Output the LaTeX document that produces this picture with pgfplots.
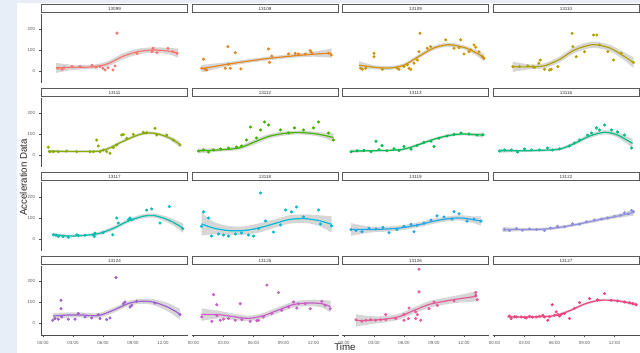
\documentclass[border=0pt]{standalone}
\usepackage{fontspec}
\setmainfont{Liberation Sans}
\usepackage{pgfplots}
\pgfplotsset{compat=1.18}
\usepackage{pgfplotstable}
\usepgfplotslibrary{fillbetween}

\definecolor{bgblue}{RGB}{232,238,247}
\definecolor{cA}{HTML}{F8766D}
\definecolor{cB}{HTML}{E7851E}
\definecolor{cC}{HTML}{D09400}
\definecolor{cD}{HTML}{B2A100}
\definecolor{cE}{HTML}{89AC00}
\definecolor{cF}{HTML}{45B500}
\definecolor{cG}{HTML}{00BC51}
\definecolor{cH}{HTML}{00C087}
\definecolor{cI}{HTML}{00C0B2}
\definecolor{cJ}{HTML}{00BCD6}
\definecolor{cK}{HTML}{1FA8E6}
\definecolor{cL}{HTML}{8F8FE0}
\definecolor{cM}{HTML}{A15FCF}
\definecolor{cN}{HTML}{CC5CC8}
\definecolor{cO}{HTML}{E65A9A}
\definecolor{cP}{HTML}{F0467C}

% ---------- points ----------
\pgfplotstableread{
x y
1.5 13
1.9 8
2.1 16
2.9 21
3.7 21
4.9 27
5.3 18
5.7 21
6.0 13
6.2 5
6.5 15
7.0 5
7.2 24
7.4 180
9.4 84
10.9 92
11.0 108
11.4 87
12.5 108
13.0 92
13.4 84
}\pA
\pgfplotstableread{
x y
0.83 13
1.0 56
1.17 8
1.33 5
3.17 13
3.43 116
3.5 32
3.67 13
4.17 87
4.73 10
7.5 105
7.6 41
7.83 71
9.5 81
10.17 84
10.5 81
11.17 81
11.67 97
11.83 87
13.5 84
13.77 76
}\pB
\pgfplotstableread{
x y
1.67 13
1.83 8
2.17 13
3.0 84
3.0 68
3.83 8
5.33 13
5.5 8
6.0 21
6.33 29
6.5 13
6.67 8
7.0 37
7.33 52
7.5 92
7.6 179
8.33 108
8.67 116
10.17 148
11.0 108
11.5 111
11.67 148
12.0 81
12.5 92
12.67 100
13.0 124
13.17 113
13.5 92
13.83 68
14.0 60
}\pC
\pgfplotstableread{
x y
1.83 21
2.5 21
3.33 24
3.83 21
4.0 17
4.43 37
4.57 52
5.0 8
5.5 5
5.67 8
6.33 21
7.77 179
7.83 116
8.17 68
9.0 92
9.9 171
10.23 171
10.5 124
11.33 92
11.9 52
12.67 84
13.9 40
}\pD
\pgfplotstableread{
x y
0.53 37
0.7 16
1.03 16
1.53 16
2.37 19
3.37 16
4.7 16
5.03 16
5.37 71
5.53 43
5.7 16
6.03 24
6.37 16
6.7 8
7.03 35
7.37 48
7.87 95
8.03 98
8.37 79
9.03 98
10.03 108
10.37 106
11.2 127
11.37 95
12.37 95
13.03 71
13.7 48
}\pE
\pgfplotstableread{
x y
0.5 19
1.0 24
1.5 14
2.0 24
2.7 29
3.5 33
4.3 38
4.8 43
5.3 71
5.7 133
6.3 81
6.7 119
7.1 157
7.5 143
8.7 119
9.5 105
10.1 129
11.0 119
12.0 129
12.5 157
13.5 105
14.0 71
}\pF
\pgfplotstableread{
x y
0.7 15
1.3 20
2.0 22
2.7 16
3.2 65
3.5 25
3.8 45
4.3 20
5.0 30
5.5 22
6.0 40
6.7 28
7.3 45
8.0 60
8.7 66
9.0 40
9.5 80
10.3 90
11.0 98
11.7 105
12.5 100
13.3 95
13.9 96
}\pG
\pgfplotstableread{
x y
0.5 19
1.0 24
1.7 24
2.3 14
3.0 29
3.7 24
4.5 24
5.3 33
5.8 24
6.5 29
7.5 43
8.0 57
8.5 71
9.3 95
9.7 105
10.2 129
10.5 119
11.0 143
11.7 119
12.3 110
13.0 95
13.7 33
}\pH
\pgfplotstableread{
x y
1.03 20
1.3 18
1.53 12
2.0 12
2.53 8
3.37 20
3.53 16
4.2 18
5.03 20
5.13 12
5.2 28
6.0 30
6.97 20
7.37 100
7.53 76
8.53 92
8.7 100
8.87 92
10.37 137
10.87 143
11.7 76
12.63 154
13.97 49
}\pI
\pgfplotstableread{
x y
0.8 60
1.0 129
1.5 100
1.8 14
2.5 24
3.0 19
3.5 14
4.2 24
4.8 29
5.5 19
6.0 14
6.5 50
6.7 219
7.2 86
8.0 33
8.7 67
9.2 138
9.8 129
10.3 152
11.0 105
12.5 138
12.7 71
13.8 62
}\pJ
\pgfplotstableread{
x y
0.7 45
1.2 40
1.8 35
2.5 50
3.2 48
3.9 55
4.5 30
5.3 45
6.0 60
6.7 70
7.0 35
7.3 65
8.0 75
8.7 90
9.3 110
10.0 105
10.8 95
11.0 130
11.5 120
12.3 85
13.0 95
13.7 85
}\pK
\pgfplotstableread{
x y
1.0 45
1.5 40
2.2 50
2.8 42
3.5 48
4.2 45
5.0 40
5.6 52
6.3 60
7.0 58
7.8 72
8.5 70
9.2 82
10.0 90
10.7 95
11.3 100
12.0 108
12.6 112
13.0 125
13.4 120
13.7 135
13.9 130
}\pL
\pgfplotstableread{
x y
0.97 13
1.2 21
1.53 18
1.8 108
1.8 68
1.87 29
2.53 18
3.2 18
3.53 45
4.2 29
4.87 24
5.53 40
5.7 21
6.37 16
6.7 24
7.3 216
8.03 92
8.2 100
8.7 76
8.87 84
9.37 103
11.2 95
13.7 40
}\pM
\pgfplotstableread{
x y
0.83 29
1.83 8
2.0 135
2.33 87
2.33 35
2.67 13
3.0 18
3.5 21
4.17 13
4.67 92
4.83 16
5.67 8
6.33 11
6.5 13
7.0 29
7.33 180
7.83 45
8.5 145
8.83 61
9.5 76
10.0 100
10.33 71
10.5 92
11.17 92
11.67 68
12.83 103
13.17 84
13.67 68
}\pN
\pgfplotstableread{
x y
1.2 15
1.8 8
2.2 13
2.67 16
3.17 13
3.67 16
4.17 40
4.17 16
5.17 21
6.0 40
6.0 13
6.5 71
6.43 21
7.17 21
7.17 53
7.33 40
7.5 256
7.5 148
7.67 13
8.5 68
9.0 100
9.33 84
11.0 105
13.17 145
13.17 132
13.33 111
}\pO
\pgfplotstableread{
x y
1.5 33
1.67 21
2.0 30
2.17 29
2.67 29
3.0 27
3.17 24
3.5 32
3.8 28
4.17 29
4.5 32
4.83 37
5.0 29
5.33 13
5.5 30
5.77 87
6.0 37
6.17 53
6.33 40
6.5 33
6.67 40
7.0 45
7.5 21
8.0 70
8.5 97
9.5 116
10.3 110
11.0 140
11.67 108
12.3 105
13.0 100
13.5 96
13.83 92
14.17 87
}\pP

% ---------- smooth curves: x, mean, half width ----------
\pgfplotstableread{
x m w
1.3 15 24
3 17 12
5 20 10
6.5 35 12
8 70 14
9.5 92 14
11 100 13
12.5 95 15
13.5 85 22
}\cA
\pgfplotstableread{
x m w
0.8 11 18
3.5 33 10
7 57 9
10 72 9
12 80 12
13.8 85 22
}\cB
\pgfplotstableread{
x m w
1.5 28 18
3 18 10
4.5 14 9
6 28 9
7.5 70 10
9 110 10
10.5 125 10
12 112 10
13 92 12
14 65 18
}\cC
\pgfplotstableread{
x m w
1.8 20 25
3.5 20 12
5 25 12
6.5 55 14
8 100 15
9.8 125 15
11.5 110 15
12.8 75 18
13.9 40 25
}\cD
\pgfplotstableread{
x m w
0.5 18 8
2.5 17 5
4.5 17 5
5.5 18 6
6.5 30 7
8 65 7
9.5 95 7
10.5 105 7
11.5 100 7
12.7 80 9
13.7 50 14
}\cE
\pgfplotstableread{
x m w
0.5 20 12
2.5 24 8
4.5 33 9
6 60 12
7.5 88 11
9 102 10
10.5 107 9
12 102 10
13 94 12
14 83 20
}\cF
\pgfplotstableread{
x m w
0.7 18 8
2.5 20 5
4.5 22 5
6 28 6
7.5 50 7
9 75 7
10.5 93 7
11.8 100 7
13 97 8
13.9 95 12
}\cG
\pgfplotstableread{
x m w
0.5 20 9
2.5 20 6
4.5 22 6
6.5 28 7
8 55 9
9.5 90 10
11 108 10
12.3 95 12
13.8 55 22
}\cH
\pgfplotstableread{
x m w
1.0 22 8
2.5 14 7
4 17 6
5.5 25 8
7 50 10
8.5 85 9
10 108 10
11 112 10
12 100 12
13 80 15
14 52 22
}\cI
\pgfplotstableread{
x m w
0.8 72 55
2 52 30
3.5 40 22
5 40 20
6.5 52 22
8 72 20
9.5 92 20
11 97 20
12.5 88 25
13.8 70 38
}\cJ
\pgfplotstableread{
x m w
0.7 45 30
2.5 45 15
4.5 48 12
6 55 12
7.5 68 12
9 85 12
10.5 97 12
11.7 100 13
12.8 93 15
13.7 85 22
}\cK
\pgfplotstableread{
x m w
0.8 45 12
2.5 45 8
4.5 46 7
6 52 7
7.5 63 7
9 77 7
10.5 92 8
12 106 9
13 116 11
13.9 126 15
}\cL
\pgfplotstableread{
x m w
1.0 33 15
2.5 38 12
4 38 12
5.5 35 12
7 60 12
8.5 92 12
9.7 103 12
11 100 14
12.5 75 20
13.7 42 25
}\cM
\pgfplotstableread{
x m w
0.8 40 30
2.5 40 18
4 30 15
5.5 22 13
7 35 13
8.5 62 14
10 88 14
11.5 95 15
12.8 92 18
13.7 78 28
}\cN
\pgfplotstableread{
x m w
1.2 12 30
2.5 13 20
4 18 15
5.5 30 14
7 60 15
8.5 88 16
10 103 16
11.5 115 18
13.3 127 25
}\cO
\pgfplotstableread{
x m w
1.3 30 6
3 28 4
4.5 30 4
6 35 5
7.5 58 6
9 90 6
10.5 108 6
12 107 6
13 100 7
14.2 88 9
}\cP

\pgfplotsset{
  panel/.style={
    scale only axis, width=110.25pt, height=51.75pt, anchor=north west,
    xmin=-0.2, xmax=14.5, ymin=-57, ymax=271,
    axis x line*=bottom, axis y line*=left,
    axis line style={line width=0.5pt, color=black!70, -},
    tick style={line width=0.4pt, color=black!70},
    tick align=outside, major tick length=1.5pt,
    xtick={0,3,6,9,12}, xticklabels={00:00,03:00,06:00,09:00,12:00},
    ytick={0,100,200},
    ticklabel style={font=\fontsize{3.3}{3.8}\selectfont, color=black!65},
    /pgf/number format/assume math mode=true,
    xticklabel style={yshift=0.5pt},
    yticklabel style={xshift=0.5pt},
    every axis title/.style={at={(0.5,1)}, anchor=south, yshift=0.75pt,
      draw=black!65, line width=0.6pt, fill=white,
      minimum width=109.6pt, minimum height=6.2pt, inner sep=0pt,
      font=\fontsize{3.4}{3.8}\selectfont, text=black!80},
  },
  nox/.style={hide x axis},
  noy/.style={hide y axis},
}

\newcommand{\panel}[6]{%
\begin{axis}[panel, at={#1}, title={#3}, #6]
\addplot[only marks, mark=*, mark size=0.95pt, color=#4] table[x=x, y=y] {#2};
\addplot[draw=none, name path=up, smooth] table[x=x, y expr=\thisrow{m}+\thisrow{w}] {#5};
\addplot[draw=none, name path=lo, smooth] table[x=x, y expr=\thisrow{m}-\thisrow{w}] {#5};
\addplot[fill=black!40, fill opacity=0.4, draw=none] fill between[of=up and lo];
\addplot[color=#4, line width=0.9pt, smooth] table[x=x, y=m] {#5};
\end{axis}}

\begin{document}
\begin{tikzpicture}
\fill[bgblue] (0,0) rectangle (12.75pt,-264.75pt);
\fill[bgblue] (12.75pt,0) rectangle (480pt,-2.25pt);

% row 1
\panel{(30.75pt,-10.5pt)}{\pA}{13099}{cA}{\cA}{nox}
\panel{(143.625pt,-10.5pt)}{\pB}{13108}{cB}{\cB}{nox,noy}
\panel{(256.5pt,-10.5pt)}{\pC}{13109}{cC}{\cC}{nox,noy}
\panel{(369.375pt,-10.5pt)}{\pD}{13110}{cD}{\cD}{nox,noy}
% row 2
\panel{(30.75pt,-73.5pt)}{\pE}{13111}{cE}{\cE}{nox}
\panel{(143.625pt,-73.5pt)}{\pF}{13112}{cF}{\cF}{nox,noy}
\panel{(256.5pt,-73.5pt)}{\pG}{13113}{cG}{\cG}{nox,noy}
\panel{(369.375pt,-73.5pt)}{\pH}{13116}{cH}{\cH}{nox,noy}
% row 3
\panel{(30.75pt,-136.5pt)}{\pI}{13117}{cI}{\cI}{nox}
\panel{(143.625pt,-136.5pt)}{\pJ}{13118}{cJ}{\cJ}{nox,noy}
\panel{(256.5pt,-136.5pt)}{\pK}{13119}{cK}{\cK}{nox,noy}
\panel{(369.375pt,-136.5pt)}{\pL}{13122}{cL}{\cL}{nox,noy}
% row 4
\panel{(30.75pt,-199.5pt)}{\pM}{13124}{cM}{\cM}{}
\panel{(143.625pt,-199.5pt)}{\pN}{13125}{cN}{\cN}{noy}
\panel{(256.5pt,-199.5pt)}{\pO}{13126}{cO}{\cO}{noy}
\panel{(369.375pt,-199.5pt)}{\pP}{13127}{cP}{\cP}{noy}

\node[rotate=90, font=\fontsize{7.3}{8}\selectfont, text=black!85] at (17.5pt,-133pt) {Acceleration Data};
\node[font=\fontsize{7.3}{8}\selectfont, text=black!85] at (258.75pt,-260.5pt) {Time};

\pgfresetboundingbox
\path[use as bounding box] (0,0) rectangle (480pt,-264.75pt);
\end{tikzpicture}
\end{document}
